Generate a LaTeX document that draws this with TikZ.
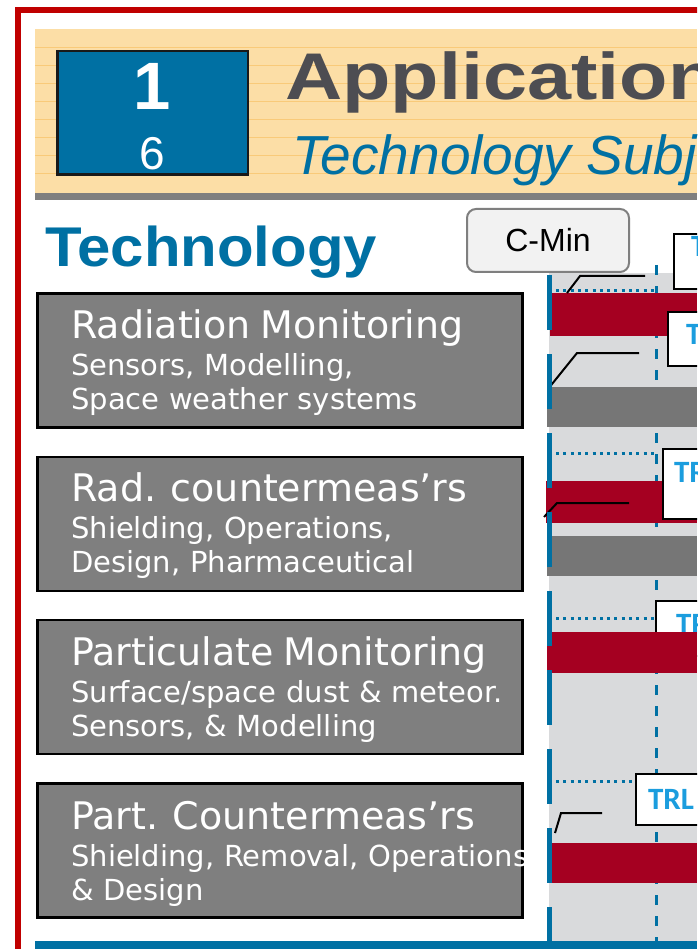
\documentclass[tikz,border=0pt]{standalone}
\usepackage{fontspec}
\setmainfont{DejaVu Sans}
\newfontfamily\arialfont{Liberation Sans}
\newfontfamily\calfont{Carlito}
\usetikzlibrary{positioning}
\definecolor{nasablue}{HTML}{0070A3}
\definecolor{trlblue}{HTML}{1B9DDE}
\definecolor{barred}{HTML}{A50021}
\definecolor{bargrey}{HTML}{767676}
\definecolor{boxgrey}{HTML}{7F7F7F}
\definecolor{lanegrey}{HTML}{D9DADC}
\definecolor{bandorange}{HTML}{FCDEA6}
\definecolor{bandline}{HTML}{F9C56E}
\definecolor{inkgrey}{HTML}{4D4D52}
\definecolor{framered}{HTML}{C00000}

\begin{document}
\begin{tikzpicture}[x=1pt, y=-1pt, node distance=26.8pt, font=\fontsize{29}{34}\selectfont]
\tikzset{
  techbox/.style={rectangle, draw=black, line width=2.5pt, fill=boxgrey, minimum width=485pt, minimum height=134pt, inner sep=0pt},
  techtext/.style={anchor=base west, inner sep=0pt, text=white, text width=470pt, align=left},
  trlbox/.style={rectangle, draw=black, line width=2pt, fill=white, anchor=north west, inner ysep=0pt, text width=70pt, align=left, text=trlblue, font=\calfont\bfseries\fontsize{31}{31}\selectfont},
  bar/.style={fill=barred},
  greybar/.style={fill=bargrey},
  leader/.style={draw=black, line width=2pt},
  lanedot/.style={nasablue, line width=3pt, dash pattern=on 3pt off 4.3pt},
}
\useasboundingbox (0,0) rectangle (697,949);
\clip (0,0) rectangle (697,949);
\fill[white] (0,0) rectangle (697,949);
\draw[framered, line width=6pt] (17.5,980) -- (17.5,10) -- (720,10);

\fill[bandorange] (35,29) rectangle (697,193);
\foreach \y in {47,65,...,180}
  \draw[bandline, line width=0.8pt, opacity=0.8] (35,\y) -- (697,\y);
\fill[boxgrey] (35,193) rectangle (697,200);

\node[rectangle, draw=black!90, line width=2.5pt, fill=nasablue, minimum width=190.5pt, minimum height=123.5pt] (num) at (152.5,113) {};
\node[anchor=base, text=white, font=\arialfont\bfseries\fontsize{67}{67}\selectfont] (numtop) at (152,110) {1};
\node[anchor=base, text=white, font=\arialfont\fontsize{46}{46}\selectfont] (numbot) at (152,170) {6};
\node[anchor=base west, inner sep=0pt, text=inkgrey, font=\arialfont\bfseries\fontsize{66}{66}\selectfont] (apptitle) at (285,100) {\scalebox{1.2}[1]{Application}};
\node[anchor=base west, inner sep=0pt, text=nasablue, font=\arialfont\itshape\fontsize{55}{55}\selectfont] (appsub) at (292,175) {Technology Subj};

\node[anchor=base west, inner sep=0pt, text=nasablue, font=\arialfont\bfseries\fontsize{56}{56}\selectfont] (techhead) at (45,267) {\scalebox{1.07}[1]{Technology}};
\node[rectangle, rounded corners=9pt, draw=boxgrey, line width=2pt, fill=black!5, minimum width=162pt, minimum height=63pt, font=\arialfont\fontsize{32}{32}\selectfont] (cmin) at (548,240.5) {C-Min};

\node[techbox, anchor=north west] (rm) at (36,292.25) {};
\node[techbox, below=of rm] (rc) {};
\node[techbox, below=of rc] (pm) {};
\node[techbox, below=of pm] (pc) {};
\node[techtext] (rm-t) at ([xshift=35pt, yshift=-46pt]rm.north west) {{\fontsize{38}{38}\selectfont Radiation Monitoring}\\[3pt] Sensors, Modelling,\\ Space weather systems};
\node[techtext] (rc-t) at ([xshift=35pt, yshift=-46pt]rc.north west) {{\fontsize{38}{38}\selectfont Rad. countermeas’rs}\\[3pt] Shielding, Operations,\\ Design, Pharmaceutical};
\node[techtext] (pm-t) at ([xshift=35pt, yshift=-47pt]pm.north west) {{\fontsize{38}{38}\selectfont Particulate Monitoring}\\[3pt] Surface/space dust \& meteor.\\ Sensors, \& Modelling};
\node[techtext] (pc-t) at ([xshift=35pt, yshift=-47pt]pc.north west) {{\fontsize{38}{38}\selectfont Part. Countermeas’rs}\\[3pt] Shielding, Removal, Operations\\ \& Design};

\fill[lanegrey] (549,273) rectangle (697,941);
\draw[nasablue, line width=3pt, dash pattern=on 10pt off 11pt] (656,265) -- (656,941);
\foreach \y in {290,453,618,781}
  \draw[lanedot] (556,\y) -- (654,\y);

\fill[bar] (550,293) rectangle (697,336);
\fill[greybar] (547,387) rectangle (697,427);
\fill[bar] (546,481) rectangle (697,523);
\fill[greybar] (547,536) rectangle (697,576);

\node[trlbox, inner xsep=17pt, text height=23pt, text depth=32pt] (trl1) at (673,233) {TRL};
\node[trlbox, inner xsep=18pt, text height=32pt, text depth=22pt] (trl2) at (667,311) {TRL};
\node[trlbox, inner xsep=11pt, text height=33pt, text depth=37pt] (trl3) at (662,448) {TRL};
\node[trlbox, inner xsep=20pt, text height=33pt, text depth=22pt] (trl4) at (655,600) {TRL};
\node[trlbox, inner xsep=12pt, text height=35pt, text depth=16pt] (trl5) at (635,773) {TRL};

\fill[bar] (547,632) rectangle (697,673);
\fill[bar] (547,843) rectangle (697,883);

\coordinate (l1a) at (567,293);
\coordinate (l1b) at (580,276);
\coordinate (l1c) at (645,276);
\coordinate (l2a) at (548,389);
\coordinate (l2b) at (577,353);
\coordinate (l2c) at (639,353);
\coordinate (l3a) at (544,517);
\coordinate (l3b) at (557,503);
\coordinate (l3c) at (629,503);
\coordinate (l4a) at (555,833);
\coordinate (l4b) at (561,813);
\coordinate (l4c) at (602,813);
\draw[leader] (l1a) -- (l1b) -- (l1c);
\draw[leader] (l2a) -- (l2b) -- (l2c);
\draw[leader] (l3a) -- (l3b) -- (l3c);
\draw[leader] (l4a) -- (l4b) -- (l4c);

\draw[nasablue, line width=5pt, dash pattern=on 55pt off 24pt] (549,275) -- (549,941);
\fill[nasablue] (35,941) rectangle (697,949);
\end{tikzpicture}
\end{document}
